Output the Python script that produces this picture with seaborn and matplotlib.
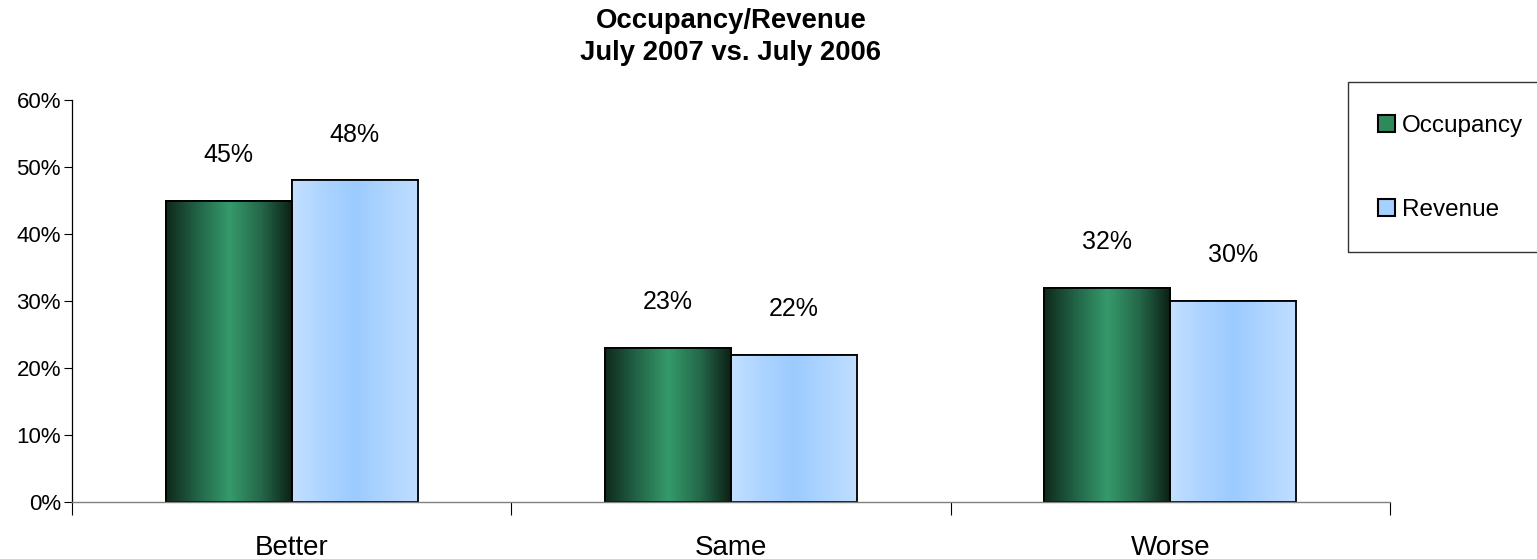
import numpy as np
import pandas as pd
import matplotlib
matplotlib.use("Agg")
import matplotlib.pyplot as plt
import seaborn as sns
from matplotlib.colors import LinearSegmentedColormap
from matplotlib.patches import Patch, Rectangle

categories = ["Better", "Same", "Worse"]
occupancy = [45, 23, 32]
revenue = [48, 22, 30]
series = ["Occupancy", "Revenue"]

df = pd.DataFrame({
    "category": categories * 2,
    "series": ["Occupancy"] * 3 + ["Revenue"] * 3,
    "value": occupancy + revenue,
})

sns.set_theme(style="white")
plt.rcParams["font.family"] = ["Liberation Sans", "DejaVu Sans"]
plt.rcParams["text.color"] = "black"
plt.rcParams["xtick.color"] = "black"
plt.rcParams["ytick.color"] = "black"

W, H = 1537, 559
fig = plt.figure(figsize=(W / 100, H / 100), dpi=100)
ax = fig.add_axes([72 / W, 1 - 502 / H, (1390 - 72) / W, (502 - 100) / H])

mid_colors = {"Occupancy": "#2e8a5c", "Revenue": "#a6d0ff"}
sns.barplot(data=df, x="category", y="value", hue="series", order=categories,
            hue_order=series, palette=mid_colors, width=0.574,
            edgecolor="black", linewidth=1.3, legend=False, ax=ax)

# gradient fills, clipped to each bar
green = LinearSegmentedColormap.from_list(
    "g", ["#0f2a1b", "#226447", "#359a6b", "#25684a", "#0a1f14"])
blue = LinearSegmentedColormap.from_list(
    "b", ["#c4e0ff", "#acd4ff", "#9ccbff", "#aed5ff", "#c0deff"])
grad = np.linspace(0, 1, 256).reshape(1, -1)
for i, p in enumerate(ax.patches):
    cmap = green if i < 3 else blue
    x, y = p.get_x(), p.get_y()
    w, h = p.get_width(), p.get_height()
    im = ax.imshow(grad, cmap=cmap, extent=[x, x + w, y, y + h],
                   aspect="auto", zorder=p.get_zorder() + 0.1)
    im.set_clip_path(p)
    edge = plt.Rectangle((x, y), w, h, fill=False, edgecolor="black",
                         linewidth=1.3, zorder=p.get_zorder() + 0.2)
    ax.add_patch(edge)
    val = occupancy[i] if i < 3 else revenue[i - 3]
    ax.annotate(f"{val}%", (x + w / 2, y + h), xytext=(0, 33),
                textcoords="offset points", ha="center", va="center",
                fontsize=18, color="black")

ax.set_xlim(-0.5, 2.5)
ax.set_ylim(0, 60)
ax.set_yticks(range(0, 61, 10))
ax.set_yticklabels([f"{v}%" for v in range(0, 61, 10)], fontsize=16)
ax.set_xticks([-0.5, 0.5, 1.5, 2.5])
ax.set_xticklabels([])
ax.set_xticks([0, 1, 2], minor=True)
ax.set_xticklabels(categories, minor=True, fontsize=20)
ax.tick_params(axis="x", which="major", direction="out", length=9.5,
               width=0.8, color="black", bottom=True)
ax.tick_params(axis="x", which="minor", length=0, pad=24)
ax.tick_params(axis="y", direction="out", length=6, width=0.8,
               color="black", left=True, pad=2)
ax.set_xlabel("")
ax.set_ylabel("")
for s in ["top", "right"]:
    ax.spines[s].set_visible(False)
ax.spines["left"].set_color("black")
ax.spines["left"].set_linewidth(0.9)
ax.spines["bottom"].set_color("#808080")
ax.spines["bottom"].set_linewidth(1.0)

fig.text(731 / W, 1 - 21 / H, "Occupancy/Revenue", ha="center", va="center",
         fontsize=19.8, fontweight="bold")
fig.text(731 / W, 1 - 53 / H, "July 2007 vs. July 2006", ha="center",
         va="center", fontsize=19.8, fontweight="bold")

# legend box (runs off the right edge like the original)
fig.patches.append(Rectangle((1348 / W, 1 - 252 / H), (1545 - 1348) / W,
                             (252 - 82) / H, transform=fig.transFigure,
                             fill=False, edgecolor="#333333", linewidth=1.0))
handles = [Patch(facecolor=mid_colors[s], edgecolor="black", linewidth=1.5)
           for s in series]
leg = fig.legend(handles, series, loc="center left",
                 bbox_to_anchor=(1378 / W, 1 - 168 / H), fontsize=17.5,
                 frameon=False, handlelength=0.68, handleheight=0.68,
                 handletextpad=0.3, labelspacing=2.55, borderpad=0,
                 borderaxespad=0)

fig.savefig("out.png", dpi=100)
